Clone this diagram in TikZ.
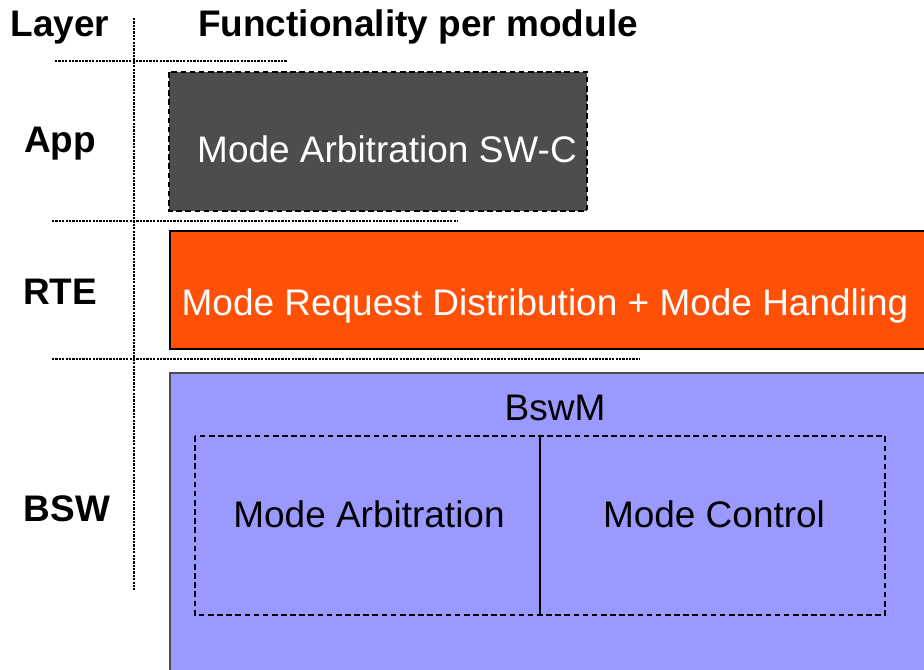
\documentclass[tikz,border=0pt]{standalone}
\usepackage{fontspec}
\setmainfont{Liberation Sans}
\definecolor{appgray}{HTML}{4D4D4D}
\definecolor{rteorange}{HTML}{FF5008}
\definecolor{bswblue}{HTML}{9999FF}
\tikzset{
  lbl/.style={anchor=base,inner sep=0pt,font=\fontsize{26.3}{30}\selectfont\bfseries},
  txt/.style={anchor=base,inner sep=0pt,font=\fontsize{26.3}{30}\selectfont},
  sep/.style={line width=1.1pt,dash pattern=on 1.6pt off 0.8pt},
  modbox/.style={line width=1.8pt,dash pattern=on 4pt off 2.5pt}
}
\begin{document}
\begin{tikzpicture}[x=0.025cm,y=-0.025cm,line cap=butt]
  \useasboundingbox (0,0) rectangle (924,669);
  \clip (0,0) rectangle (924,669);
  % layer grid
  \draw[sep] (134,18) -- (134,590);
  \draw[sep] (55,61) -- (287,61);
  \draw[sep] (52,221) -- (458,221);
  \draw[sep] (52,359) -- (640,359);
  \node[lbl] (layer) at (60,37) {Layer};
  \node[lbl] (func) at (418,37) {Functionality per module};
  \node[lbl] (app) at (60,153) {App};
  \node[lbl] (rte) at (60,304) {RTE};
  \node[lbl] (bsw) at (67,521) {BSW};
  % modules
  \draw[modbox,fill=appgray] (169,72) rectangle (587,211);
  \node[txt,white] (arbswc) at (387,163) {Mode Arbitration SW-C};
  \draw[fill=rteorange,line width=0.9pt] (170,231) rectangle (940,349);
  \node[txt,white] (rtedist) at (545,315) {Mode Request Distribution + Mode Handling};
  \draw[fill=bswblue,draw=black!70,line width=0.9pt] (170,373) rectangle (940,690);
  \node[txt] (bswm) at (555,420) {BswM};
  \draw[modbox] (195,436) rectangle (885,615);
  \draw[line width=1.8pt] (540,436) -- (540,615);
  \node[txt] (arb) at (369,527) {Mode Arbitration};
  \node[txt] (ctrl) at (714,527) {Mode Control};
\end{tikzpicture}
\end{document}
